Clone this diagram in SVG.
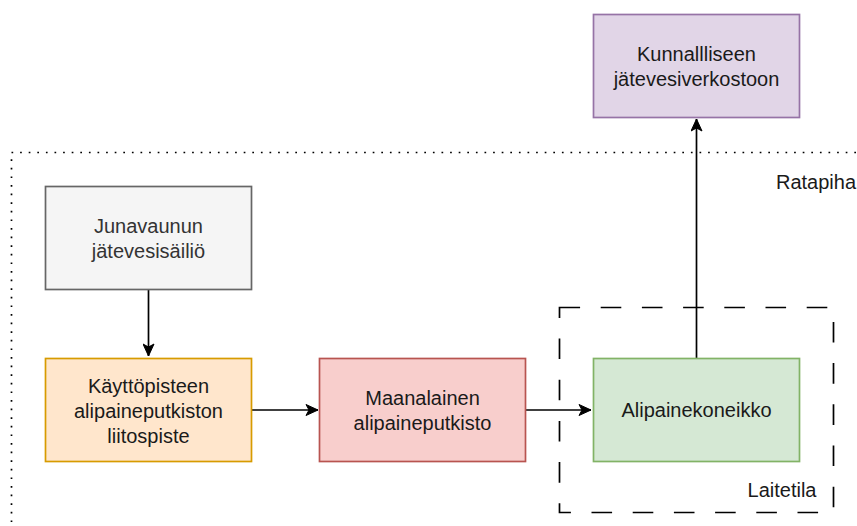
<svg xmlns="http://www.w3.org/2000/svg" width="857" height="526" viewBox="0 0 857 526">
<style>
text{font-family:"Liberation Sans",Arial,sans-serif;font-size:20px;fill:#1a1a1a;text-anchor:middle}
.box{stroke-width:1.7}
.edge{fill:none;stroke:#000;stroke-width:1.7}
</style>
<defs>
<marker id="arr" viewBox="0 0 14 12" refX="13" refY="6" markerWidth="14" markerHeight="12" markerUnits="userSpaceOnUse" orient="auto">
<path d="M13,6 L1,0.5 L4,6 L1,11.5 Z" fill="#000" stroke="#000" stroke-width="1"/>
</marker>
</defs>
<rect x="0" y="0" width="857" height="526" fill="#fff"/>
<g id="ratapiha">
<rect x="11.5" y="152.5" width="900" height="420" fill="none" stroke="#000" stroke-width="1.7" stroke-dasharray="1.7 6.9"/>
<text x="816" y="189">Ratapiha</text>
</g>
<g id="laitetila">
<rect x="559.5" y="307.5" width="274" height="205" fill="none" stroke="#000" stroke-width="1.7" stroke-dasharray="20.6 20.6"/>
<text x="782" y="497">Laitetila</text>
</g>
<g id="connectors">
<path class="edge" d="M148.5,289 V356" marker-end="url(#arr)"/>
<path class="edge" d="M252,410 H318" marker-end="url(#arr)"/>
<path class="edge" d="M525,410 H591" marker-end="url(#arr)"/>
<path class="edge" d="M696.5,358 V119" marker-end="url(#arr)"/>
</g>
<g id="junavaunun">
<rect class="box" x="45.5" y="186.5" width="206" height="103" fill="#f5f5f5" stroke="#666666"/>
<text x="148.5" y="233" style="fill:#333333">Junavaunun</text>
<text x="148.5" y="258" style="fill:#333333">jätevesisäiliö</text>
</g>
<g id="kayttopiste">
<rect class="box" x="45.5" y="358.5" width="206" height="103" fill="#ffe6cc" stroke="#d79b00"/>
<text x="148.5" y="392.5">Käyttöpisteen</text>
<text x="148.5" y="417.5">alipaineputkiston</text>
<text x="148.5" y="442.5">liitospiste</text>
</g>
<g id="maanalainen">
<rect class="box" x="319.5" y="358.5" width="206" height="103" fill="#f8cecc" stroke="#b85450"/>
<text x="422.5" y="404.5">Maanalainen</text>
<text x="422.5" y="429.5">alipaineputkisto</text>
</g>
<g id="alipainekoneikko">
<rect class="box" x="593.5" y="358.5" width="206" height="103" fill="#d5e8d4" stroke="#82b366"/>
<text x="696.5" y="417">Alipainekoneikko</text>
</g>
<g id="kunnallinen">
<rect class="box" x="593.5" y="14.5" width="206" height="103" fill="#e1d5e7" stroke="#9673a6"/>
<text x="696.5" y="61">Kunnallliseen</text>
<text x="696.5" y="86">jätevesiverkostoon</text>
</g>
</svg>
